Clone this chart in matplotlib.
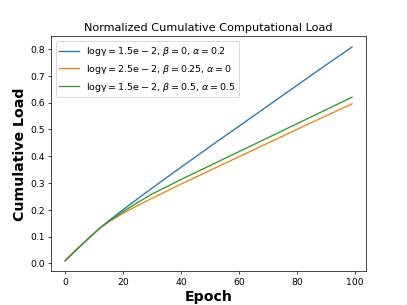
import numpy as np
import matplotlib
matplotlib.use('Agg')
import matplotlib.pyplot as plt

epochs = [0, 3, 6, 9, 12, 15, 20, 25, 30, 40, 50, 60, 70, 80, 90, 99]

load_a = [0.010, 0.042, 0.073, 0.103, 0.132, 0.159, 0.2005, 0.241, 0.281,
          0.359, 0.436, 0.512, 0.588, 0.664, 0.740, 0.807]
load_b = [0.010, 0.042, 0.073, 0.103, 0.132, 0.155, 0.187, 0.216, 0.243,
          0.296, 0.347, 0.398, 0.449, 0.500, 0.550, 0.595]
load_c = [0.010, 0.042, 0.073, 0.103, 0.132, 0.156, 0.193, 0.227, 0.259,
          0.313, 0.365, 0.417, 0.469, 0.521, 0.573, 0.620]

labels = [
    r'$\mathrm{log\gamma=1.5e-2}$, $\beta=0$, $\alpha=0.2$',
    r'$\mathrm{log\gamma=2.5e-2}$, $\beta=0.25$, $\alpha=0$',
    r'$\mathrm{log\gamma=1.5e-2}$, $\beta=0.5$, $\alpha=0.5$',
]

plt.rcParams['font.size'] = 10.5

fig, ax = plt.subplots(figsize=(6.4, 4.8), dpi=63.6)

for series, lab in zip([load_a, load_b, load_c], labels):
    ax.plot(epochs, series, label=lab)

ax.set_title('Normalized Cumulative Computational Load', fontsize=12.8)
ax.set_xlabel('Epoch', fontsize=16, fontweight='bold')
ax.set_ylabel('Cumulative Load', fontsize=16, fontweight='bold')
ax.legend(loc='upper left', fontsize=10.8)

fig.savefig('out.png', dpi=63.6)
